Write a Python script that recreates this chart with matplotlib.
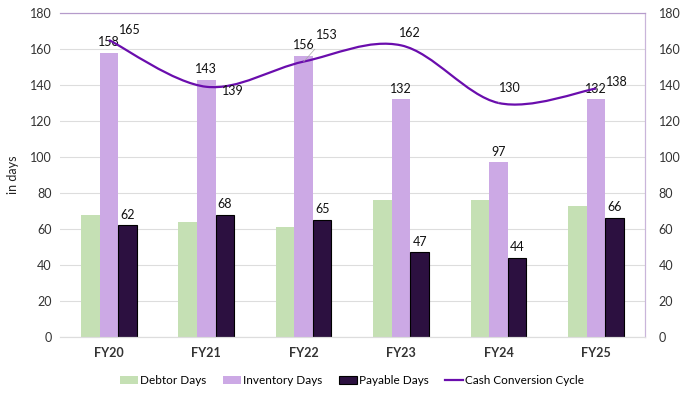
import numpy as np
import matplotlib.pyplot as plt
from matplotlib.path import Path
from matplotlib.patches import PathPatch

plt.rcParams['font.family'] = ['Lato', 'DejaVu Sans']

years = ['FY20', 'FY21', 'FY22', 'FY23', 'FY24', 'FY25']
debtor_days = [68, 64, 61, 76, 76, 73]
inventory_days = [158, 143, 156, 132, 97, 132]
payable_days = [62, 68, 65, 47, 44, 66]
ccc = [165, 139, 153, 162, 130, 138]

green = '#C5E0B4'
lilac = '#CCA9E5'
dark = '#2C1040'
line_col = '#6A0DAD'

fig = plt.figure(figsize=(6.83, 3.93), dpi=100)
ax = fig.add_axes([0.088, 0.1425, 0.856, 0.8245])

x = np.arange(len(years))
w = 0.19
b1 = ax.bar(x - w, debtor_days, w, color=green, label='Debtor Days', zorder=2)
b2 = ax.bar(x, inventory_days, w, color=lilac, label='Inventory Days', zorder=2)
b3 = ax.bar(x + w, payable_days, w, color=dark, edgecolor='black', linewidth=0.8,
            label='Payable Days', zorder=2)

for xi, v in zip(x, inventory_days):
    ax.annotate(str(v), (xi, v), xytext=(0, 3.5), textcoords='offset points',
                ha='center', va='bottom', fontsize=9, color='#111111')
for xi, v in zip(x + w, payable_days):
    ax.annotate(str(v), (xi, v), xytext=(0, 3.5), textcoords='offset points',
                ha='center', va='bottom', fontsize=9, color='#111111')

# smoothed line (Catmull-Rom as cubic Bezier segments, like Excel's smoothed line)
px = x.astype(float)
py = np.array(ccc, dtype=float)
verts = [(px[0], py[0])]
codes = [Path.MOVETO]
n = len(px)
for i in range(n - 1):
    p0 = (px[max(i - 1, 0)], py[max(i - 1, 0)])
    p1 = (px[i], py[i])
    p2 = (px[i + 1], py[i + 1])
    p3 = (px[min(i + 2, n - 1)], py[min(i + 2, n - 1)])
    c1 = (p1[0] + (p2[0] - p0[0]) / 6, p1[1] + (p2[1] - p0[1]) / 6)
    c2 = (p2[0] - (p3[0] - p1[0]) / 6, p2[1] - (p3[1] - p1[1]) / 6)
    verts += [c1, c2, p2]
    codes += [Path.CURVE4] * 3
ax.add_patch(PathPatch(Path(verts, codes), facecolor='none', edgecolor=line_col,
                       linewidth=1.6, zorder=4))
l1, = ax.plot([], [], color=line_col, linewidth=1.6, label='Cash Conversion Cycle')

offsets = [(15, 7), (19, -3), (17, 19), (6, 9), (8, 11), (15, 5)]
leaders = [True, False, True, False, True, True]
for xi, v, off, ld in zip(px, ccc, offsets, leaders):
    ax.annotate(str(v), (xi, v), xytext=off, textcoords='offset points',
                ha='center', va='center', fontsize=9, color='#111111', zorder=5,
                arrowprops=dict(arrowstyle='-', color='#AAAAAA', lw=0.5,
                                shrinkA=5, shrinkB=0) if ld else None)

ax.set_xlim(-0.5, len(years) - 0.5)
ax.set_ylim(0, 180)
ax.set_yticks(range(0, 181, 20))
ax.set_xticks(x)
ax.set_xticklabels(years, fontsize=9, color='#333333', fontweight='bold')
ax.tick_params(axis='y', labelsize=9, colors='#333333', length=0, pad=6)
ax.tick_params(axis='x', length=0, pad=7)
ax.grid(axis='y', color='#DDDDDD', linewidth=0.8, zorder=0)
ax.set_axisbelow(True)
ax.set_ylabel('in days', fontsize=9, color='#222222', labelpad=8)

ax2 = ax.twinx()
ax2.set_ylim(0, 180)
ax2.set_yticks(range(0, 181, 20))
ax2.tick_params(axis='y', labelsize=9, colors='#333333', length=0, pad=10)

for a in (ax, ax2):
    a.spines['left'].set_visible(False)
    a.spines['bottom'].set_color('#DDDDDD')
    a.spines['top'].set_color('#B59BCB')
    a.spines['right'].set_color('#C9B5DA')

ax.legend([b1, b2, b3, l1],
          ['Debtor Days', 'Inventory Days', 'Payable Days', 'Cash Conversion Cycle'],
          loc='upper center', bbox_to_anchor=(0.5, -0.085), ncol=4, frameon=False,
          fontsize=8.5, handlelength=1.5, handleheight=0.7, columnspacing=1.4,
          handletextpad=0.2)

plt.savefig('out.png', dpi=100)
